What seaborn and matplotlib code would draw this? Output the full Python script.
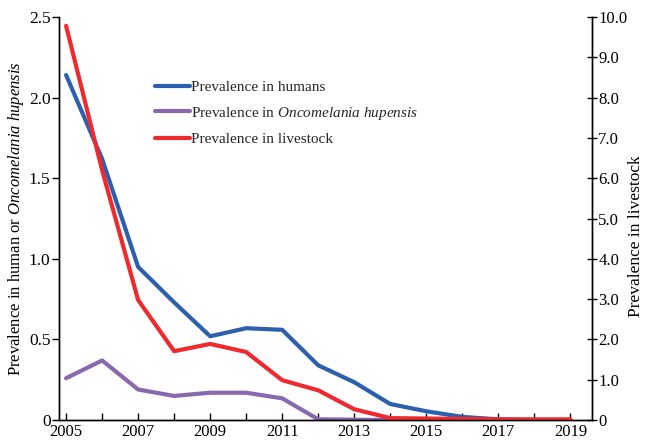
import matplotlib
matplotlib.use("Agg")
import matplotlib.pyplot as plt
import seaborn as sns
import pandas as pd
from matplotlib.ticker import FixedLocator, FixedFormatter

years = list(range(2005, 2020))
humans = [2.14, 1.62, 0.95, 0.73, 0.52, 0.57, 0.56, 0.34, 0.235, 0.10, 0.055, 0.02, 0.005, 0.0, 0.0]
snails = [0.26, 0.37, 0.19, 0.15, 0.17, 0.17, 0.135, 0.005, 0.003, 0.0, 0.0, 0.0, 0.0, 0.0, 0.0]
livestock = [9.78, 6.2, 2.98, 1.71, 1.89, 1.69, 0.99, 0.74, 0.27, 0.05, 0.04, 0.03, 0.02, 0.02, 0.02]

left_ticks = [0, 0.5, 1.0, 1.5, 2.0, 2.5]
left_labels = ["0", "0.5", "1.0", "1.5", "2.0", "2.5"]
right_ticks = [0, 1, 2, 3, 4, 5, 6, 7, 8, 9, 10]
right_labels = ["0", "1.0", "2.0", "3.0", "4.0", "5.0", "6.0", "7.0", "8.0", "9.0", "10.0"]
x_labels = ["2005", "2007", "2009", "2011", "2013", "2015", "2017", "2019"]

sns.set_theme(style="white")
plt.rcParams["font.family"] = ["Liberation Serif", "DejaVu Serif"]
plt.rcParams["mathtext.fontset"] = "custom"
plt.rcParams["mathtext.rm"] = "Liberation Serif"
plt.rcParams["mathtext.it"] = "Liberation Serif:italic"

df = pd.DataFrame({"year": years, "humans": humans, "snails": snails, "livestock": livestock})

c_blue = "#2c5fae"
c_purple = "#8a68b0"
c_red = "#ee2a2e"

fig = plt.figure(figsize=(6.47, 4.46), dpi=100)
ax = fig.add_axes([0.091, 0.058, 0.824, 0.904])
ax2 = ax.twinx()

sns.lineplot(data=df, x="year", y="humans", ax=ax, color=c_blue, lw=3, label="Prevalence in humans", legend=False)
sns.lineplot(data=df, x="year", y="snails", ax=ax, color=c_purple, lw=3,
             label=r"Prevalence in $\mathit{Oncomelania\ hupensis}$", legend=False)
sns.lineplot(data=df, x="year", y="livestock", ax=ax2, color=c_red, lw=3, label="Prevalence in livestock", legend=False)

ax.set_xlim(2004.8, 2019.6)
ax.set_ylim(0, 2.5)
ax2.set_ylim(0, 10)

ax.xaxis.set_major_locator(FixedLocator(list(range(2005, 2020, 2))))
ax.xaxis.set_major_formatter(FixedFormatter(x_labels))
ax.xaxis.set_minor_locator(FixedLocator(list(range(2006, 2020, 2))))
ax.yaxis.set_major_locator(FixedLocator(left_ticks))
ax.yaxis.set_major_formatter(FixedFormatter(left_labels))
ax2.yaxis.set_major_locator(FixedLocator(right_ticks))
ax2.yaxis.set_major_formatter(FixedFormatter(right_labels))

for a in (ax, ax2):
    for s in a.spines.values():
        s.set_color("black")
        s.set_linewidth(1.0)
    a.spines["top"].set_visible(False)

ax.tick_params(axis="x", which="both", direction="in", length=5, width=1, bottom=True, labelsize=12, pad=3, colors="black")
ax.tick_params(axis="y", direction="out", length=5, width=1, left=True, labelsize=12.5, pad=1, colors="black")
ax2.tick_params(axis="y", direction="inout", length=7, width=1, right=True, labelsize=12, pad=1, colors="black")

ax.set_xlabel("")
ax.set_ylabel(r"Prevalence in human or $\mathit{Oncomelania\ hupensis}$", fontsize=12, color="black")
ax.yaxis.set_label_coords(-0.062, 0.5)
ax2.set_ylabel("Prevalence in livestock", fontsize=12.5, color="black")
ax2.yaxis.set_label_coords(1.067, 0.455)

h1, l1 = ax.get_legend_handles_labels()
h2, l2 = ax2.get_legend_handles_labels()
ax2.legend(h1 + h2, l1 + l2, loc="upper left", bbox_to_anchor=(0.155, 0.877), frameon=False,
           fontsize=11, handlelength=2.3, handletextpad=0.05, labelspacing=0.7)

fig.savefig("out.png", dpi=100)
